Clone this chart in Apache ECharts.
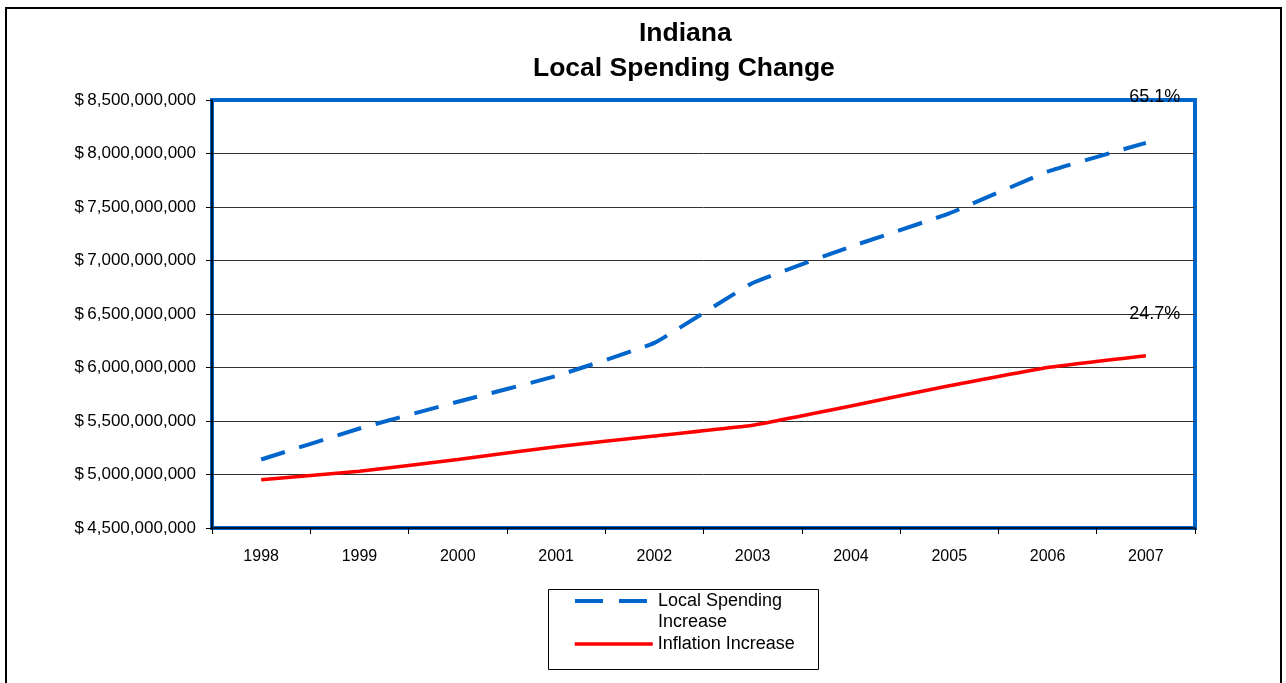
<!DOCTYPE html>
<html>
<head>
<meta charset="utf-8">
<script src="https://cdn.jsdelivr.net/npm/echarts@6/dist/echarts.min.js"></script>
<style>
html,body{margin:0;padding:0;background:#fff;}
#chart{width:1286px;height:683px;}
</style>
</head>
<body>
<div id="chart"></div>
<script>
const years = ['1998','1999','2000','2001','2002','2003','2004','2005','2006','2007'];
const localSpending = [5.14e9, 5.43e9, 5.68e9, 5.92e9, 6.23e9, 6.79e9, 7.13e9, 7.44e9, 7.83e9, 8.10e9];
const inflation = [4.95e9, 5.03e9, 5.14e9, 5.26e9, 5.36e9, 5.46e9, 5.64e9, 5.83e9, 6.00e9, 6.11e9];
const pctLabels = ['65.1%', '24.7%'];
const seriesNames = ['Local Spending Increase', 'Inflation Increase'];
const titleLines = ['Indiana', 'Local Spending Change'];

const FONT = 'Liberation Sans, Arial, sans-serif';
const chart = echarts.init(document.getElementById('chart'));

function endLabel(text, dy) {
  return {
    show: true,
    distance: 0,
    align: 'center',
    verticalAlign: 'middle',
    offset: [9, dy],
    fontFamily: FONT,
    fontSize: 18,
    color: '#000',
    formatter: () => text
  };
}

const titleStyle = { fontFamily: FONT, fontSize: 26.5, fontWeight: 'bold', lineHeight: 35, color: '#000' };
const legendText = { fontFamily: FONT, fontSize: 18, lineHeight: 21, color: '#000' };
const hiddenSymbol = { color: 'rgba(0,0,0,0)', borderWidth: 0, opacity: 0 };

chart.setOption({
  backgroundColor: '#fff',
  animation: false,
  title: [
    { text: titleLines[0], left: 639, top: 16, padding: 0, textStyle: titleStyle },
    { text: titleLines[1], left: 533, top: 51, padding: 0, textStyle: titleStyle }
  ],
  grid: {
    left: 212, top: 100, width: 983, height: 428,
    show: true, borderColor: '#0066CC', borderWidth: 4, backgroundColor: 'transparent'
  },
  legend: [
    {
      orient: 'vertical', left: 573, top: 569.5, padding: 0,
      itemWidth: 78, itemHeight: 14,
      textStyle: legendText,
      itemStyle: hiddenSymbol,
      lineStyle: { width: 4, type: [28, 16], color: '#0066CC' },
      data: [seriesNames[0]],
      formatter: () => '\nLocal Spending\nIncrease'
    },
    {
      orient: 'vertical', left: 573, top: 633.5, padding: 0,
      itemWidth: 78, itemHeight: 14,
      textStyle: legendText,
      itemStyle: hiddenSymbol,
      lineStyle: { width: 3.5, color: '#FF0000' },
      data: [seriesNames[1]]
    }
  ],
  xAxis: {
    type: 'category',
    data: years,
    boundaryGap: true,
    axisLine: { lineStyle: { color: '#000', width: 1.5 } },
    axisTick: { show: true, length: 6, lineStyle: { color: '#000' } },
    axisLabel: { margin: 21, fontFamily: FONT, fontSize: 16, color: '#000' },
    splitLine: { show: false }
  },
  yAxis: {
    type: 'value',
    min: 4500000000,
    max: 8500000000,
    interval: 500000000,
    axisLine: { show: true, lineStyle: { color: '#000', width: 1.5 } },
    axisTick: { show: true, length: 6, lineStyle: { color: '#000' } },
    axisLabel: {
      margin: 16, fontFamily: FONT, fontSize: 17, color: '#000',
      formatter: (v) => '$\u2009' + Math.round(v).toLocaleString('en-US')
    },
    splitLine: { show: true, showMaxLine: false, showMinLine: false, lineStyle: { color: '#333', width: 1 } }
  },
  series: [
    {
      name: seriesNames[0],
      type: 'line',
      data: localSpending,
      symbol: 'none',
      smooth: 0.1,
      color: '#0066CC',
      lineStyle: { color: '#0066CC', width: 4, type: [25, 15] },
      endLabel: endLabel(pctLabels[0], -46),
      z: 3
    },
    {
      name: seriesNames[1],
      type: 'line',
      data: inflation,
      symbol: 'none',
      smooth: 0.1,
      color: '#FF0000',
      lineStyle: { color: '#FF0000', width: 3.5 },
      endLabel: endLabel(pctLabels[1], -42),
      z: 3
    }
  ],
  graphic: [
    { type: 'rect', shape: { x: 6, y: 8, width: 1275, height: 690 }, style: { fill: 'none', stroke: '#000', lineWidth: 2 }, silent: true },
    { type: 'rect', shape: { x: 548.5, y: 589.5, width: 270, height: 80 }, style: { fill: 'none', stroke: '#000', lineWidth: 1 }, silent: true }
  ]
});
</script>
</body>
</html>
